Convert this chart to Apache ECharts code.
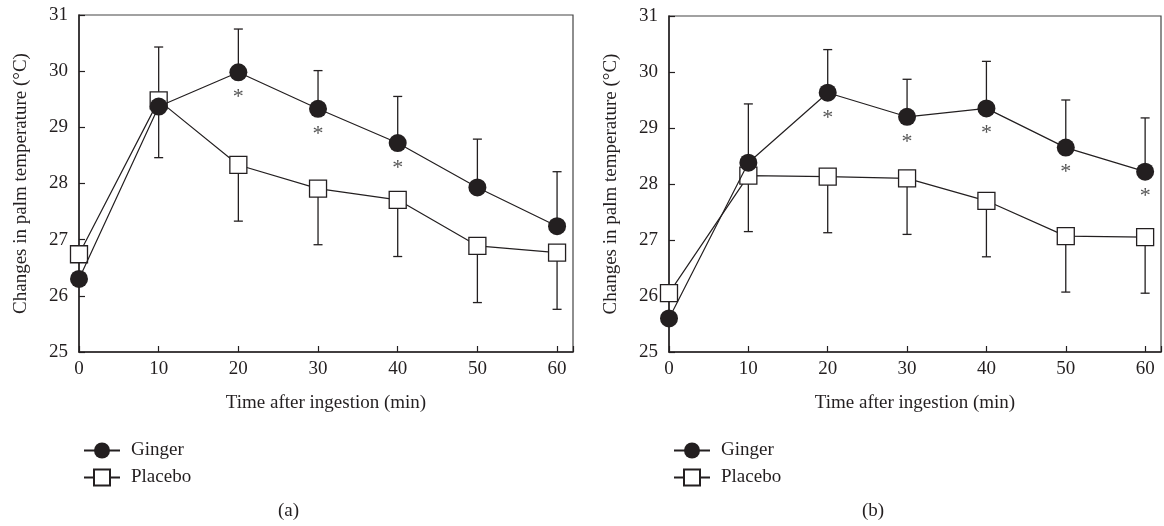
<!DOCTYPE html>
<html lang="en">
<head>
<meta charset="UTF-8">
<title>Palm temperature</title>
<script src="https://cdn.jsdelivr.net/npm/echarts@6/dist/echarts.min.js"></script>
<style>
    html, body { margin: 0; padding: 0; background: #fff; }
    #main { width: 1164px; height: 526px; }
</style>
</head>
<body>
<div id="main"></div>
<script>
    // minutes after ingestion
    var times = [0, 10, 20, 30, 40, 50, 60];
    var xTicks = [0, 10, 20, 30, 40, 50, 60];
    var yTicks = [25, 26, 27, 28, 29, 30, 31];

    // panel (a)
    var gingerA = [26.3, 29.37, 29.98, 29.33, 28.72, 27.93, 27.24];
    var gingerSdA = [0, 1.06, 0.77, 0.68, 0.83, 0.86, 0.97];
    var placeboA = [26.74, 29.48, 28.33, 27.91, 27.71, 26.89, 26.77];
    var placeboSdA = [0, 1.02, 1.0, 1.0, 1.01, 1.01, 1.01];
    var starsA = [20, 30, 40];

    // panel (b)
    var gingerB = [25.6, 28.38, 29.63, 29.2, 29.35, 28.65, 28.22];
    var gingerSdB = [0, 1.05, 0.77, 0.67, 0.84, 0.85, 0.96];
    var placeboB = [26.05, 28.15, 28.13, 28.1, 27.7, 27.07, 27.05];
    var placeboSdB = [0, 1.0, 1.0, 1.0, 1.0, 1.0, 1.0];
    var starsB = [20, 30, 40, 50, 60];

    var ink = '#231f20';
    var font = 'Liberation Serif';

    function pairs(ys) {
        return times.map(function (t, i) { return [t, ys[i]]; });
    }

    // error bars: dir 1 = up (ginger), -1 = down (placebo)
    function errorSeries(idx, ys, sds, dir) {
        return {
            type: 'custom',
            xAxisIndex: idx, yAxisIndex: idx,
            z: 1,
            silent: true,
            data: times.map(function (t, i) { return [t, ys[i], sds[i]]; }),
            encode: {x: 0, y: 1},
            renderItem: function (params, api) {
                var sd = api.value(2);
                if (!sd) return;
                var p0 = api.coord([api.value(0), api.value(1)]);
                var p1 = api.coord([api.value(0), api.value(1) + dir * sd]);
                return {
                    type: 'group',
                    children: [
                        {type: 'line', shape: {x1: p0[0], y1: p0[1], x2: p1[0], y2: p1[1]}, style: {stroke: ink, lineWidth: 1.3}},
                        {type: 'line', shape: {x1: p1[0] - 4.5, y1: p1[1], x2: p1[0] + 4.5, y2: p1[1]}, style: {stroke: ink, lineWidth: 1.3}}
                    ]
                };
            }
        };
    }

    // significance asterisks under ginger markers
    function starSeries(idx, ys, stars) {
        return {
            type: 'custom',
            xAxisIndex: idx, yAxisIndex: idx,
            silent: true,
            data: stars.map(function (t) { return [t, ys[times.indexOf(t)]]; }),
            encode: {x: 0, y: 1},
            renderItem: function (params, api) {
                var p = api.coord([api.value(0), api.value(1)]);
                return {
                    type: 'text',
                    x: p[0], y: p[1] + 25,
                    style: {text: '*', fill: '#555', font: '22px ' + font, align: 'center', verticalAlign: 'middle'}
                };
            }
        };
    }

    function lineSeries(idx, name, ys) {
        var isGinger = name === 'Ginger';
        return {
            name: name,
            type: 'line',
            xAxisIndex: idx, yAxisIndex: idx,
            z: isGinger ? 4 : 3,
            data: pairs(ys),
            symbol: isGinger ? 'circle' : 'rect',
            symbolSize: isGinger ? 18 : 17,
            lineStyle: {color: ink, width: 1.2},
            itemStyle: isGinger ? {color: ink} : {color: '#fff', borderColor: ink, borderWidth: 1.3},
            animation: false
        };
    }

    function xAxis(idx) {
        return {
            gridIndex: idx,
            type: 'value',
            min: 0, max: 62, interval: 10,
            name: 'Time after ingestion (min)',
            nameLocation: 'middle',
            nameGap: 42,
            nameTextStyle: {color: ink, fontFamily: font, fontSize: 19},
            axisLine: {lineStyle: {color: ink, width: 1.5}},
            axisTick: {inside: true, length: 6, lineStyle: {color: ink, width: 1.2}},
            axisLabel: {
                color: ink, fontFamily: font, fontSize: 19, margin: 8,
                formatter: function (v) { return xTicks.indexOf(v) >= 0 ? String(v) : ''; }
            },
            splitLine: {show: false}
        };
    }

    function yAxis(idx) {
        return {
            gridIndex: idx,
            type: 'value',
            min: yTicks[0], max: yTicks[yTicks.length - 1], interval: 1,
            name: 'Changes in palm temperature (\u00b0C)',
            nameLocation: 'middle',
            nameGap: 48,
            nameTextStyle: {color: ink, fontFamily: font, fontSize: 19},
            axisLine: {lineStyle: {color: ink, width: 1.5}},
            axisTick: {inside: true, length: 6, lineStyle: {color: ink, width: 1.2}},
            axisLabel: {color: ink, fontFamily: font, fontSize: 19, margin: 11},
            splitLine: {show: false}
        };
    }

    function legend(left) {
        return {
            left: left, top: 436,
            orient: 'vertical',
            itemWidth: 36, itemHeight: 20, itemGap: 8,
            selectedMode: false,
            data: ['Ginger', 'Placebo'],
            textStyle: {color: ink, fontFamily: font, fontSize: 19, padding: [0, 0, 0, 6]}
        };
    }

    var myChart = echarts.init(document.getElementById('main'), null, {renderer: 'canvas'});

    var option = {
        backgroundColor: '#fff',
        animation: false,
        grid: [
            {left: 79, top: 15, width: 494, height: 337, show: true, borderColor: '#444', borderWidth: 1.2},
            {left: 669, top: 16, width: 497, height: 336, show: true, borderColor: '#444', borderWidth: 1.2}
        ],
        xAxis: [xAxis(0), xAxis(1)],
        yAxis: [yAxis(0), yAxis(1)],
        legend: [legend(78), legend(668)],
        graphic: [
            {type: 'text', left: 278, top: 502, style: {text: '(a)', fill: ink, font: '19px ' + font}},
            {type: 'text', left: 862, top: 502, style: {text: '(b)', fill: ink, font: '19px ' + font}}
        ],
        series: [
            errorSeries(0, gingerA, gingerSdA, 1),
            errorSeries(0, placeboA, placeboSdA, -1),
            lineSeries(0, 'Ginger', gingerA),
            lineSeries(0, 'Placebo', placeboA),
            starSeries(0, gingerA, starsA),
            errorSeries(1, gingerB, gingerSdB, 1),
            errorSeries(1, placeboB, placeboSdB, -1),
            lineSeries(1, 'Ginger', gingerB),
            lineSeries(1, 'Placebo', placeboB),
            starSeries(1, gingerB, starsB)
        ]
    };

    myChart.setOption(option);
</script>
</body>
</html>
